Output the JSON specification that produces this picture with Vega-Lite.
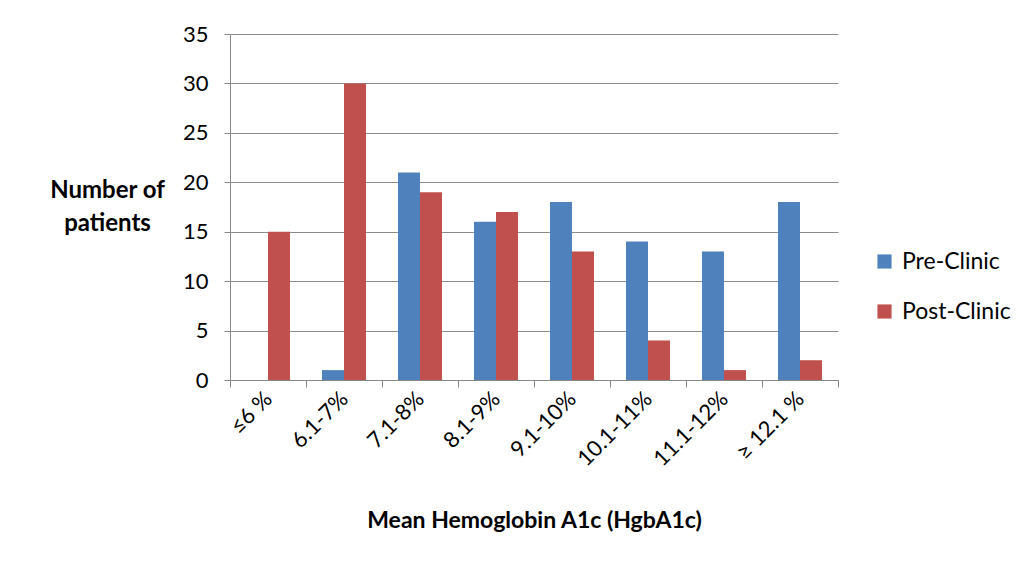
{
  "$schema": "https://vega.github.io/schema/vega-lite/v6.json",
  "width": 608,
  "height": 346,
  "autosize": {"type": "none"},
  "padding": {"left": 230, "top": 34, "right": 190, "bottom": 182},
  "background": "white",
  "config": {
    "font": "Lato",
    "view": {"stroke": null}
  },
  "data": {
    "values": [
      {"range": "≤6 %", "group": "Pre-Clinic", "patients": 0},
      {"range": "≤6 %", "group": "Post-Clinic", "patients": 15},
      {"range": "6.1-7%", "group": "Pre-Clinic", "patients": 1},
      {"range": "6.1-7%", "group": "Post-Clinic", "patients": 30},
      {"range": "7.1-8%", "group": "Pre-Clinic", "patients": 21},
      {"range": "7.1-8%", "group": "Post-Clinic", "patients": 19},
      {"range": "8.1-9%", "group": "Pre-Clinic", "patients": 16},
      {"range": "8.1-9%", "group": "Post-Clinic", "patients": 17},
      {"range": "9.1-10%", "group": "Pre-Clinic", "patients": 18},
      {"range": "9.1-10%", "group": "Post-Clinic", "patients": 13},
      {"range": "10.1-11%", "group": "Pre-Clinic", "patients": 14},
      {"range": "10.1-11%", "group": "Post-Clinic", "patients": 4},
      {"range": "11.1-12%", "group": "Pre-Clinic", "patients": 13},
      {"range": "11.1-12%", "group": "Post-Clinic", "patients": 1},
      {"range": "≥ 12.1 %", "group": "Pre-Clinic", "patients": 18},
      {"range": "≥ 12.1 %", "group": "Post-Clinic", "patients": 2}
    ]
  },
  "mark": {"type": "bar"},
  "encoding": {
    "x": {
      "field": "range",
      "type": "nominal",
      "sort": null,
      "scale": {"paddingInner": 0, "paddingOuter": 0},
      "axis": {
        "title": "Mean Hemoglobin A1c (HgbA1c)",
        "titleFontSize": 23,
        "titleFontWeight": "bold",
        "titleColor": "black",
        "titlePadding": 40,
        "labelAngle": -45,
        "labelAlign": "right",
        "labelBaseline": "middle",
        "labelFontSize": 22,
        "labelColor": "black",
        "labelPadding": 8,
        "domainColor": "#888888",
        "tickColor": "#888888",
        "tickBand": "extent",
        "tickSize": 7,
        "grid": false
      }
    },
    "xOffset": {
      "field": "group",
      "type": "nominal",
      "sort": ["Pre-Clinic", "Post-Clinic"],
      "scale": {"paddingInner": 0, "paddingOuter": 0.727}
    },
    "y": {
      "field": "patients",
      "type": "quantitative",
      "scale": {"domain": [0, 35], "nice": false},
      "axis": {
        "values": [0, 5, 10, 15, 20, 25, 30, 35],
        "title": ["Number of", "patients"],
        "titleAngle": 0,
        "titleAlign": "center",
        "titleBaseline": "top",
        "titleX": -123,
        "titleY": 144,
        "titleFontSize": 24,
        "titleFontWeight": "bold",
        "titleColor": "black",
        "titleLineHeight": 33,
        "labelFontSize": 22,
        "labelColor": "black",
        "labelPadding": 16,
        "tickSize": 6,
        "tickColor": "#888888",
        "domainColor": "#888888",
        "gridColor": "#8c8c8c",
        "gridWidth": 1
      }
    },
    "color": {
      "field": "group",
      "type": "nominal",
      "sort": ["Pre-Clinic", "Post-Clinic"],
      "scale": {"domain": ["Pre-Clinic", "Post-Clinic"], "range": ["#4F81BD", "#C0504D"]},
      "legend": {
        "title": null,
        "orient": "none",
        "legendX": 643,
        "legendY": 216,
        "symbolType": "square",
        "symbolSize": 200,
        "symbolStrokeWidth": 0,
        "labelFontSize": 23,
        "labelColor": "black",
        "rowPadding": 26,
        "labelOffset": 6
      }
    }
  }
}
